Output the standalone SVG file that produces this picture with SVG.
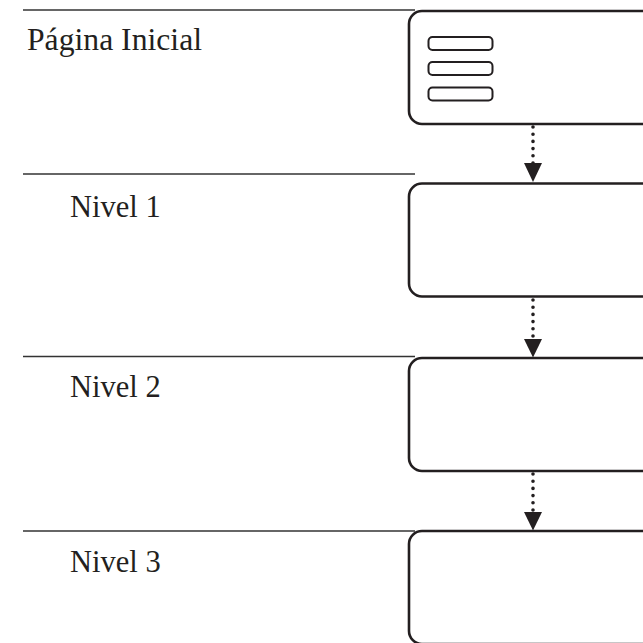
<svg xmlns="http://www.w3.org/2000/svg" width="643" height="643" viewBox="0 0 643 643">
<style>
.sep{stroke:#333;stroke-width:1.3;fill:none}
.box{fill:#fff;stroke:#231f20;stroke-width:2.6}
.bar{fill:#fff;stroke:#231f20;stroke-width:2}
.lbl{font-family:"Liberation Serif","Times New Roman",serif;font-size:30.5px;fill:#231f20}
.dot{stroke:#231f20;stroke-width:3.6;stroke-linecap:round;stroke-dasharray:0 7.2;fill:none}
.head{fill:#231f20}
</style>
<rect width="643" height="643" fill="#fff"/>
<g id="separators">
<line class="sep" x1="23" y1="10" x2="415" y2="10"/>
<line class="sep" x1="23" y1="174" x2="415" y2="174"/>
<line class="sep" x1="23" y1="356.5" x2="415" y2="356.5"/>
<line class="sep" x1="23" y1="531" x2="415" y2="531"/>
</g>
<g id="node-home">
<rect class="box" x="409" y="11" width="300" height="113" rx="13"/>
<rect class="bar" x="428.5" y="37" width="64" height="13" rx="4"/>
<rect class="bar" x="428.5" y="62" width="64" height="13" rx="4"/>
<rect class="bar" x="428.5" y="87.5" width="64" height="13" rx="4"/>
<text class="lbl" x="27" y="50" textLength="175" lengthAdjust="spacingAndGlyphs">Página Inicial</text>
</g>
<g id="node-nivel1">
<rect class="box" x="409" y="183.5" width="300" height="113" rx="13"/>
<text class="lbl" x="70" y="217">Nivel 1</text>
</g>
<g id="node-nivel2">
<rect class="box" x="409" y="358" width="300" height="113" rx="13"/>
<text class="lbl" x="70" y="397">Nivel 2</text>
</g>
<g id="node-nivel3">
<rect class="box" x="409" y="531" width="300" height="113" rx="13"/>
<text class="lbl" x="70" y="572">Nivel 3</text>
</g>
<g id="connectors">
<line class="dot" x1="533" y1="127" x2="533" y2="163"/>
<polygon class="head" points="524,163 542,163 533,182"/>
<line class="dot" x1="533" y1="300" x2="533" y2="339"/>
<polygon class="head" points="524,339 542,339 533,357.5"/>
<line class="dot" x1="533" y1="474" x2="533" y2="512"/>
<polygon class="head" points="524,512 542,512 533,530.5"/>
</g>
</svg>
